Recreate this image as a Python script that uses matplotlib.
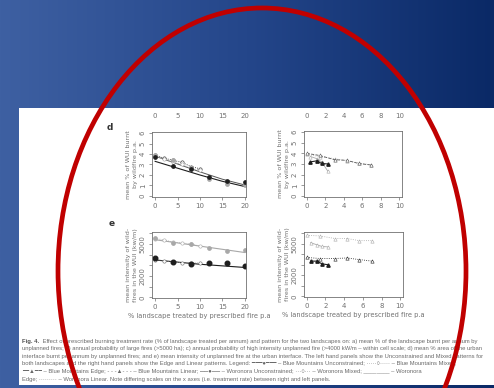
import numpy as np
import matplotlib
matplotlib.use("Agg")
import matplotlib.pyplot as plt
from matplotlib.colors import LinearSegmentedColormap
from matplotlib.patches import Rectangle, Ellipse
import matplotlib.transforms as mtransforms

# ==========================================
# DATA
# ==========================================
# left panels: Unconstrained (to 20 %) and Mixed (to 10 %)
unc_x = [0, 4, 8, 12, 16, 20]
mix_x = [0, 2, 4, 6, 8, 10]
fit_x = [0, 5, 10, 15, 20]

# d) mean % of WUI burnt by wildfire p.a.
bm_unc_d = [3.7, 2.9, 2.6, 1.85, 1.45, 1.3]
wor_unc_d = [3.9, 3.4, 2.7, 1.65, 1.1, 1.0]
bm_mix_d = [3.9, 3.6, 3.4, 3.2, 2.8, 2.6]
wor_mix_d = [3.8, 3.5, 3.2, 3.0, 2.6, 2.5]
bm_fit_d = [3.3, 2.65, 2.0, 1.4, 0.9]
wor_fit_d = [3.8, 3.05, 2.3, 1.6, 1.05]

# e) mean intensity of wildfires in the WUI (kw/m)
bm_unc_e = [3650, 3300, 3100, 3200, 3200, 2900]
wor_unc_e = [5600, 5100, 5000, 4600, 4300, 4400]
bm_mix_e = [3500, 3450, 3300, 3250, 3250, 3200]
wor_mix_e = [5500, 5400, 5150, 5100, 5000, 4800]
bm_fit_e = [3500, 3300, 3100, 2950, 2800]
wor_fit_e = [5400, 5100, 4800, 4500, 4200]

# right panels: Edge and Linear
edge_x = [0.4, 1.1, 1.6, 2.3]
lin_x = [0, 1.4, 3.0, 4.3, 5.6, 7.0]
bm_edge_d = [3.2, 3.3, 3.05, 3.0]
wor_edge_d = [3.7, 3.5, 3.2, 2.3]
bm_lin_d = [4.0, 3.8, 3.4, 3.35, 3.05, 2.9]
wor_lin_d = [3.9, 3.7, 3.5, 3.3, 3.1, 2.9]
bm_edge_e = [3350, 3350, 3100, 3000]
wor_edge_e = [5100, 4900, 4750, 4700]
bm_lin_e = [3700, 3600, 3600, 3650, 3500, 3350]
wor_lin_e = [5800, 5750, 5500, 5500, 5300, 5300]

left_ticks = [0, 5, 10, 15, 20]
right_ticks = [0, 2, 4, 6, 8, 10]
d_ticks = [0, 1, 2, 3, 4, 5, 6]
e_ticks = [0, 1000, 2000, 3000, 4000, 5000, 6000]
e_ticklabels = ["0", "", "2000", "", "", "5000", ""]

xlabel = "% landscape treated by prescribed fire p.a"
ylabel_d = "mean % of WUI burnt\nby wildfire p.a."
ylabel_e = "mean intensity of wild-\nfires in the WUI (kw/m)"

caption = [
    "Effect of prescribed burning treatment rate (% of landscape treated per annum) and pattern for the two landscapes on: a) mean % of the landscape burnt per annum by",
    "unplanned fires; b) annual probability of large fires (>5000 ha); c) annual probability of high intensity unplanned fire (>4000 kW/m \u2013 within cell scale; d) mean % area of the urban",
    "interface burnt per annum by unplanned fires; and e) mean intensity of unplanned fire at the urban interface. The left hand panels show the Unconstrained and Mixed patterns for",
    "both landscapes and the right hand panels show the Edge and Linear patterns. Legend: \u2501\u2501\u2501\u25cf\u2501\u2501\u2501 \u2013 Blue Mountains Unconstrained; \u00b7\u00b7\u00b7\u00b7\u00b7\u25cb\u00b7\u00b7\u00b7\u00b7\u00b7 \u2013 Blue Mountains Mixed;",
    "\u2501\u2501\u25b2\u2501\u2501 \u2013 Blue Mountains Edge; - - -\u25b2- - - \u2013 Blue Mountains Linear; \u2500\u2500\u25cf\u2500\u2500 \u2013 Woronora Unconstrained; \u00b7\u00b7\u00b7\u25cb\u00b7\u00b7\u00b7 \u2013 Woronora Mixed; ________ \u2013 Woronora",
    "Edge; \u00b7\u00b7\u00b7\u00b7\u00b7\u00b7\u00b7\u00b7\u00b7 \u2013 Woronora Linear. Note differing scales on the x axes (i.e. treatment rate) between right and left panels.",
]

# ==========================================
# FIGURE
# ==========================================
W, H = 494, 388
fig = plt.figure(figsize=(W / 100, H / 100), dpi=100)

def box(x0, y0, x1, y1):
    return [x0 / W, 1 - y1 / H, (x1 - x0) / W, (y1 - y0) / H]

grey = "#707070"
dark = "#1e1e1e"
light = "#a8a8a8"

# slide background
bg = fig.add_axes([0, 0, 1, 1], zorder=0)
bg.set_xlim(0, W)
bg.set_ylim(H, 0)
bg.axis("off")
cmap = LinearSegmentedColormap.from_list("slide", ["#3e60a2", "#24468a", "#0a2966"])
bg.imshow(np.linspace(0, 1, 256)[None, :], cmap=cmap, extent=[0, W, H, 0], aspect="auto")
bg.add_patch(Rectangle((19, 108), W - 19, 277, facecolor="white", edgecolor="none"))

fam = ["Liberation Sans", "DejaVu Sans"]
cap_fs = 4.25
for i, line in enumerate(caption):
    y = 341 + i * 7.6
    if i == 0:
        lead = bg.text(22, y, "Fig. 4.", fontsize=cap_fs, fontweight="bold", color="#505050",
                       va="center", family=fam)
        bg.annotate(" " + line, xy=(1, 0.5), xycoords=lead, xytext=(1.5, 0),
                    textcoords="offset points", fontsize=cap_fs, color="#6a6a6a",
                    va="center", family=fam)
    else:
        bg.text(22, y, line, fontsize=cap_fs, color="#6a6a6a", va="center", family=fam)

bg.text(110, 127, "d", fontsize=6.5, fontweight="bold", color="#333333", ha="center", va="center")
bg.text(112, 223, "e", fontsize=6.5, fontweight="bold", color="#333333", ha="center", va="center")


def style(ax, xticks, yticks, yticklabels=None):
    for s in ax.spines.values():
        s.set_color(grey)
        s.set_linewidth(0.6)
    ax.set_xticks(xticks)
    ax.set_yticks(yticks)
    if yticklabels is not None:
        ax.set_yticklabels(yticklabels)
    ax.tick_params(direction="out", length=2.5, width=0.5, color=grey,
                   labelcolor=grey, labelsize=5, pad=2)
    for t in ax.get_yticklabels():
        t.set_rotation(90)
        t.set_va("center")


ax_dl = fig.add_axes(box(152, 132, 246, 197), zorder=1)
ax_dr = fig.add_axes(box(304, 131, 402, 197), zorder=1)
ax_el = fig.add_axes(box(152, 232, 246, 298), zorder=1)
ax_er = fig.add_axes(box(304, 232, 403, 297), zorder=1)

ms = 2.4

# d left
ax_dl.plot(fit_x, bm_fit_d, color=dark, lw=0.8)
ax_dl.plot(fit_x, wor_fit_d, color="#555555", lw=0.7)
ax_dl.plot(mix_x, bm_mix_d, color=dark, lw=0.6, ls=":", marker="o", ms=ms, mfc="white", mec=dark, mew=0.4)
ax_dl.plot(mix_x, wor_mix_d, color=light, lw=0.6, ls=":", marker="o", ms=ms, mfc="white", mec=light, mew=0.4)
ax_dl.plot(unc_x, wor_unc_d, ls="none", marker="o", ms=ms, color=light)
ax_dl.plot(unc_x, bm_unc_d, ls="none", marker="o", ms=ms, color=dark)
ax_dl.set_xlim(-0.7, 20.3)
ax_dl.set_ylim(-0.1, 6.1)
style(ax_dl, left_ticks, d_ticks)
ax_dl.set_ylabel(ylabel_d, fontsize=4.6, color=grey, labelpad=1.5, linespacing=1.3)

# d right
ax_dr.plot(lin_x, wor_lin_d, color=light, lw=0.6, ls=":", marker="^", ms=ms, mfc="white", mec=light, mew=0.4)
ax_dr.plot(lin_x, bm_lin_d, color="#555555", lw=0.6, ls="--", marker="^", ms=ms, mfc="white", mec="#555555", mew=0.4)
ax_dr.plot(edge_x, wor_edge_d, color=light, lw=0.6, marker="^", ms=ms, mfc="white", mec=light, mew=0.4)
ax_dr.plot(edge_x, bm_edge_d, color=dark, lw=0.8, marker="^", ms=ms)
ax_dr.set_xlim(-0.3, 10.3)
ax_dr.set_ylim(-0.1, 6.1)
style(ax_dr, right_ticks, d_ticks)
ax_dr.set_ylabel(ylabel_d, fontsize=4.6, color=grey, labelpad=1.5, linespacing=1.3)

# e left
ax_el.plot(fit_x, wor_fit_e, color=light, lw=0.8)
ax_el.plot(fit_x, bm_fit_e, color=dark, lw=0.8)
ax_el.plot(mix_x, wor_mix_e, color=light, lw=0.6, ls=":", marker="o", ms=ms, mfc="white", mec=light, mew=0.4)
ax_el.plot(mix_x, bm_mix_e, color="#888888", lw=0.6, ls=":", marker="o", ms=ms, mfc="white", mec="#666666", mew=0.4)
ax_el.plot(unc_x, wor_unc_e, ls="none", marker="o", ms=ms, color=light)
ax_el.plot(unc_x, bm_unc_e, ls="none", marker="o", ms=3.3, color=dark)
ax_el.set_xlim(-0.7, 20.3)
ax_el.set_ylim(-60, 6120)
style(ax_el, left_ticks, e_ticks, e_ticklabels)
ax_el.set_ylabel(ylabel_e, fontsize=4.6, color=grey, labelpad=1.5, linespacing=1.3)
ax_el.set_xlabel(xlabel, fontsize=4.8, color=grey, labelpad=2)

# e right
ax_er.plot(lin_x, wor_lin_e, color=light, lw=0.6, ls=":", marker="^", ms=ms, mfc="white", mec=light, mew=0.4)
ax_er.plot(edge_x, wor_edge_e, color=light, lw=0.6, marker="^", ms=ms, mfc="white", mec=light, mew=0.4)
ax_er.plot(lin_x, bm_lin_e, color=dark, lw=0.6, ls=":", marker="^", ms=ms, mfc="white", mec=dark, mew=0.4)
ax_er.plot(edge_x, bm_edge_e, color=dark, lw=0.8, marker="^", ms=ms)
ax_er.set_xlim(-0.3, 10.3)
ax_er.set_ylim(-60, 6120)
style(ax_er, right_ticks, e_ticks, e_ticklabels)
ax_er.set_ylabel(ylabel_e, fontsize=4.6, color=grey, labelpad=1.5, linespacing=1.3)
ax_er.set_xlabel(xlabel, fontsize=4.8, color=grey, labelpad=2)

# tick labels of the cut-off panel c above
for ax, ticks in [(ax_dl, left_ticks), (ax_dr, right_ticks)]:
    tr = mtransforms.blended_transform_factory(ax.transData, fig.transFigure)
    for t in ticks:
        fig.text(t, 1 - 116 / H, str(t), transform=tr, fontsize=5, color=grey,
                 ha="center", va="center", zorder=2)

# red circle drawn over everything
top = fig.add_axes([0, 0, 1, 1], zorder=5)
top.set_xlim(0, W)
top.set_ylim(H, 0)
top.axis("off")
top.patch.set_alpha(0)
top.add_patch(Ellipse((262, 271), 408, 526, facecolor="none", edgecolor="#c00000", lw=3.4))

fig.savefig("out.png", dpi=100)
